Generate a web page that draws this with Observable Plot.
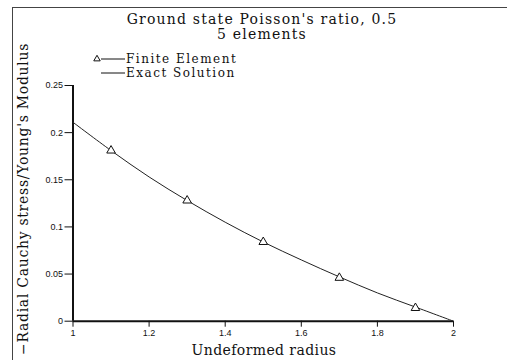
<!DOCTYPE html>
<html>
<head>
<meta charset="utf-8">
<script src="https://cdn.jsdelivr.net/npm/d3@7"></script>
<script src="https://cdn.jsdelivr.net/npm/@observablehq/plot@0.6"></script>
<style>
  html, body { margin: 0; padding: 0; background: #fff; }
  #wrap { position: relative; width: 507px; height: 360px; overflow: hidden; background: #fff; }
  #frame { position: absolute; left: 12px; top: 7px; right: 0; bottom: 0; border-left: 1px solid #444; border-top: 1px solid #444; pointer-events: none; }
  .serif { font-family: "DejaVu Serif", "Liberation Serif", serif; font-size: 14px; color: #111; white-space: nowrap; line-height: 1; }
  #title { height: 42px; position: relative; }
  #t1 { position: absolute; left: 0; width: 524px; text-align: center; top: 12px; letter-spacing: 1.2px; }
  #t2 { position: absolute; left: 0; width: 524px; text-align: center; top: 27px; letter-spacing: 1.2px; }
  #ylab { position: absolute; left: 23px; top: 199px; transform: translate(-50%, -50%) rotate(-90deg); letter-spacing: 0.7px; }
  #xlab { position: absolute; left: 264px; top: 350px; transform: translate(-50%, -50%); letter-spacing: 0.4px; }
  #legend { position: absolute; left: 0; top: 0; }
</style>
</head>
<body>
<div id="wrap">
  <div id="title">
    <div id="t1" class="serif">Ground state Poisson's ratio, 0.5</div>
    <div id="t2" class="serif">5 elements</div>
  </div>
  <div id="chart"></div>
  <div id="ylab" class="serif">−Radial Cauchy stress/Young's Modulus</div>
  <div id="xlab" class="serif">Undeformed radius</div>
  <div id="frame"></div>
</div>
<script>
// Data
const feRadius = [1.1, 1.3, 1.5, 1.7, 1.9];
const feStress = [0.181, 0.128, 0.084, 0.046, 0.014];
const exactRadius = [1.0, 1.1, 1.2, 1.3, 1.4, 1.5, 1.6, 1.7, 1.8, 1.9, 2.0];
const exactStress = [0.211, 0.181, 0.153, 0.128, 0.105, 0.084, 0.065, 0.047, 0.030, 0.015, 0.0];
const xTicks = [1, 1.2, 1.4, 1.6, 1.8, 2];
const yTicks = [0, 0.05, 0.1, 0.15, 0.2, 0.25];
const seriesNames = ["Finite Element", "Exact Solution"];

const fe = feRadius.map((r, i) => ({r, s: feStress[i]}));
const exact = exactRadius.map((r, i) => ({r, s: exactStress[i]}));

const chart = Plot.plot({
  width: 507,
  height: 318,
  marginLeft: 72.5,
  marginRight: 54,
  marginTop: 43,
  marginBottom: 39.3,
  style: {fontFamily: "Liberation Sans, sans-serif", fontSize: "9px", background: "white", color: "#111"},
  x: {domain: [1, 2]},
  y: {domain: [0, 0.25]},
  marks: [
    Plot.axisX({ticks: xTicks, tickSize: 6, tickPadding: 2, tickFormat: d => String(d), label: null}),
    Plot.axisY({ticks: yTicks, tickSize: 8, tickPadding: 2, tickFormat: d => String(d), label: null}),
    Plot.ruleX([1], {stroke: "#111", strokeWidth: 2}),
    Plot.ruleY([0], {stroke: "#111", strokeWidth: 2}),
    Plot.line(exact, {x: "r", y: "s", stroke: "#222", strokeWidth: 1, curve: "catmull-rom"}),
    Plot.dot(fe, {x: "r", y: "s", symbol: "triangle", r: 3.2, stroke: "#111", fill: "white", strokeWidth: 1})
  ]
});
document.getElementById("chart").appendChild(chart);

// Legend
const ns = "http://www.w3.org/2000/svg";
const leg = document.createElementNS(ns, "svg");
leg.setAttribute("id", "legend");
leg.setAttribute("width", 260);
leg.setAttribute("height", 90);
const rows = [{y: 59, tri: true}, {y: 73, tri: false}];
rows.forEach((row, i) => {
  if (row.tri) {
    const p = document.createElementNS(ns, "path");
    p.setAttribute("d", d3.symbol(d3.symbolTriangle, 18)());
    p.setAttribute("transform", `translate(97,${row.y})`);
    p.setAttribute("fill", "white");
    p.setAttribute("stroke", "#111");
    leg.appendChild(p);
  }
  const l = document.createElementNS(ns, "line");
  l.setAttribute("x1", 101); l.setAttribute("x2", 125);
  l.setAttribute("y1", row.y); l.setAttribute("y2", row.y);
  l.setAttribute("stroke", "#111");
  leg.appendChild(l);
  const t = document.createElementNS(ns, "text");
  t.setAttribute("x", 126); t.setAttribute("y", row.y + 4);
  t.setAttribute("font-family", "DejaVu Serif, Liberation Serif, serif");
  t.setAttribute("font-size", 12);
  t.setAttribute("letter-spacing", 1.5);
  t.setAttribute("fill", "#111");
  t.textContent = seriesNames[i];
  leg.appendChild(t);
});
document.getElementById("wrap").appendChild(leg);
</script>
</body>
</html>
